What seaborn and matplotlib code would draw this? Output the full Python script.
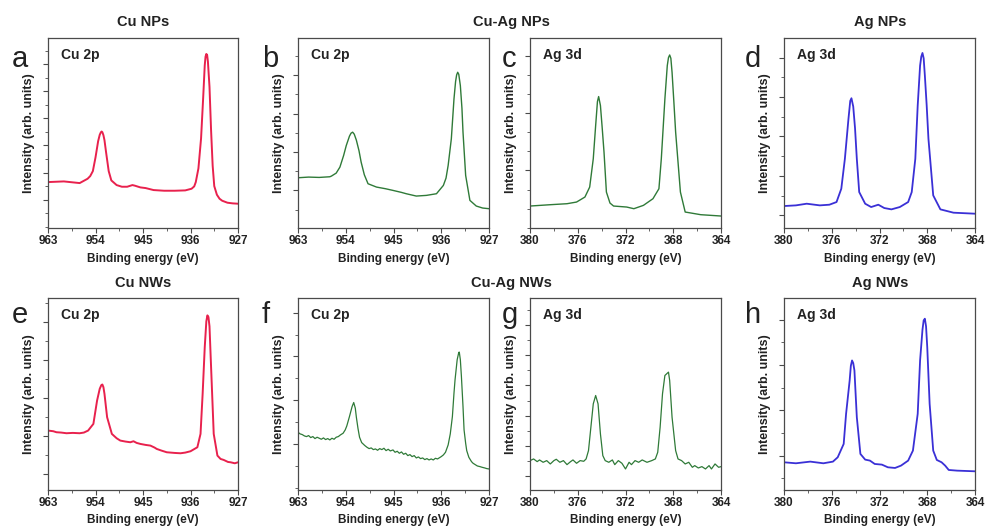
import matplotlib
matplotlib.use("Agg")
import matplotlib.pyplot as plt
from matplotlib.ticker import AutoMinorLocator, FixedLocator
import numpy as np
import pandas as pd
import seaborn as sns

# ---------------- data (binding energy in eV, intensity in arb. units) ----------------
cu_ticks = [963, 954, 945, 936, 927]
cu_ticklabels = ["963", "954", "945", "936", "927"]
ag_ticks = [380, 376, 372, 368, 364]
ag_ticklabels = ["380", "376", "372", "368", "364"]

# a: Cu NPs, Cu 2p
a_x = [963, 960, 957, 955.5, 955.0, 954.5, 954, 953.5, 953.2, 953.0, 952.85, 952.7, 952.5, 952.3,
       952.0, 951.5, 951.0, 950.0, 949.0, 948.0, 947.0, 946.5, 945.5, 944.5, 943.0, 941.0, 939.0,
       937.0, 935.8, 935.3, 935.0, 934.5, 934.0, 933.6, 933.3, 933.15, 933.0, 932.85, 932.7, 932.4,
       932.1, 931.8, 931.5, 931.0, 930.5, 930.0, 929.0, 928.0, 927.0]
a_y = [138, 140, 135, 148, 156, 171, 212, 261, 280, 287, 290, 288, 279, 264,
       228, 171, 143, 129, 124, 124, 129, 127, 122, 120, 114, 112, 112,
       113, 118, 125, 138, 179, 269, 391, 489, 515, 523, 520, 500, 424,
       293, 187, 126, 100, 88, 82, 76, 74, 73]

# b: Cu-Ag NPs, Cu 2p
b_x = [963, 961, 959, 957, 956.7, 955.8, 955.1, 954.4, 953.9, 953.3, 953.0, 952.7, 952.4, 952.0,
       951.5, 951.1, 950.5, 949.8, 948.2, 946.5, 945.1, 943.5, 942.6, 940.7, 938.8, 936.9, 935.6,
       935.1, 934.7, 934.1, 933.6, 933.3, 933.1, 932.9, 932.7, 932.4, 932.1, 931.9, 931.4, 930.6,
       929.4, 928.2, 927]
b_y = [151, 153, 152, 154, 156, 165, 183, 218, 248, 276, 285, 288, 282, 264,
       232, 198, 160, 133, 123, 118, 113, 107, 103, 96, 98, 103, 128,
       150, 188, 268, 388, 440, 460, 468, 462, 428, 360, 288, 158, 83,
       66, 60, 58]

# c: Cu-Ag NPs, Ag 3d
c_x = [380, 378.3, 376.9, 376.1, 375.4, 375.0, 374.7, 374.5, 374.35, 374.25, 374.1, 373.95, 373.8,
       373.6, 373.3, 373.0, 371.9, 371.3, 370.5, 369.7, 369.2, 369.0, 368.7, 368.5, 368.4, 368.3,
       368.2, 368.1, 367.95, 367.8, 367.4, 367.0, 365.7, 364]
c_y = [66, 70, 73, 78, 93, 123, 208, 308, 380, 395, 368, 300, 228,
       108, 75, 66, 63, 58, 68, 88, 118, 208, 388, 488, 512, 520,
       510, 468, 380, 288, 108, 48, 40, 36]

# d: Ag NPs, Ag 3d
d_x = [380, 379.0, 378.1, 377.0, 376.2, 375.6, 375.2, 374.9, 374.6, 374.45, 374.35, 374.2, 374.05,
       373.9, 373.7, 373.2, 372.7, 372.1, 371.6, 371.0, 370.3, 369.6, 369.3, 369.0, 368.8, 368.6,
       368.5, 368.4, 368.3, 368.2, 368.05, 367.9, 367.5, 366.9, 365.8, 364]
d_y = [66, 68, 73, 68, 70, 78, 118, 208, 328, 382, 390, 365, 300,
       208, 108, 73, 63, 70, 60, 56, 63, 78, 108, 208, 368, 488,
       515, 526, 510, 458, 370, 268, 98, 56, 46, 43]

# e: Cu NWs, Cu 2p
e_x = [963, 962, 961.4, 960.5, 959.5, 958.3, 957.0, 956.2, 955.4, 954.4, 953.7, 953.2, 952.9,
       952.7, 952.5, 952.3, 951.8, 950.9, 950.0, 949.3, 948.3, 947.4, 946.8, 946.2, 945.5, 944.5,
       943.6, 942.8, 942.4, 941.5, 940.5, 939.0, 937.9, 937.0, 936.0, 934.7, 934.1, 933.7, 933.3,
       933.0, 932.8, 932.6, 932.4, 932.1, 931.6, 930.9, 930.3, 929.7, 928.9, 928.4, 927.6, 927.0]
e_y = [178, 176, 173, 172, 170, 171, 170, 172, 178, 198, 268, 303, 314,
       316, 308, 288, 218, 168, 155, 148, 145, 143, 146, 141, 138, 135,
       133, 127, 123, 118, 113, 111, 110, 112, 116, 128, 168, 288, 428,
       505, 523, 518, 490, 368, 168, 103, 93, 90, 84, 83, 80, 83]

# f: Cu-Ag NWs, Cu 2p
f_x = [963, 962.6, 962.2, 961.8, 961.4, 961.0, 960.6, 960.2, 959.8, 959.4, 959.0, 958.6, 958.2,
       957.8, 957.4, 957.0, 956.6, 956.2, 955.8, 955.4, 955.0, 954.5, 954.1, 953.8, 953.3, 952.8,
       952.5, 952.2, 952.0, 951.7, 951.4, 951.0, 950.4, 950.0, 949.6, 949.2, 948.8, 948.4, 948.0,
       947.6, 947.2, 946.8, 946.4, 946.0, 945.6, 945.1, 944.7, 944.3, 943.9, 943.5, 943.1, 942.7,
       942.3, 941.9, 941.5, 941.1, 940.7, 940.3, 939.9, 939.5, 939.1, 938.7, 938.3, 937.9, 937.5,
       937.1, 936.7, 936.3, 936.0, 935.6, 935.2, 934.7, 934.3, 933.9, 933.6, 933.4, 933.0, 932.7,
       932.6, 932.4, 932.2, 931.9, 931.7, 931.4, 931.2, 930.8, 930.3, 930.0, 929.6, 929.2, 928.7,
       928.3, 927.8, 927.4, 927.0]
f_y = [173, 168, 166, 162, 160, 163, 157, 160, 154, 158, 155, 152, 156,
       151, 154, 150, 155, 152, 158, 160, 165, 170, 180, 192, 220, 250,
       262, 245, 218, 185, 158, 142, 133, 128, 124, 126, 121, 123, 119,
       124, 121, 125, 118, 122, 117, 120, 113, 116, 110, 114, 107, 110,
       103, 106, 100, 103, 96, 99, 94, 96, 91, 94, 90, 93, 90,
       95, 93, 97, 100, 105, 113, 135, 168, 220, 290, 330, 390, 412,
       413, 390, 340, 250, 180, 140, 118, 98, 85, 80, 76, 72, 70,
       68, 66, 64, 63]

# g: Cu-Ag NWs, Ag 3d
g_x = [380, 379.7, 379.4, 379.2, 378.9, 378.6, 378.3, 378.0, 377.8, 377.5, 377.2, 376.9, 376.6,
       376.4, 376.1, 375.8, 375.5, 375.3, 375.1, 374.9, 374.7, 374.5, 374.3, 374.1, 373.9, 373.7,
       373.4, 373.1, 372.9, 372.6, 372.3, 372.0, 371.7, 371.5, 371.2, 370.9, 370.6, 370.2, 369.8,
       369.5, 369.3, 369.1, 368.9, 368.7, 368.4, 368.3, 368.1, 367.8, 367.6, 367.3, 367.0, 366.7,
       366.4, 366.2, 365.9, 365.6, 365.3, 365.0, 364.8, 364.5, 364.2, 364.0]
g_y = [88, 93, 85, 90, 83, 88, 78, 88, 92, 83, 88, 76, 85,
       90, 80, 88, 86, 93, 118, 188, 258, 283, 258, 168, 103, 88,
       83, 90, 76, 88, 80, 63, 83, 76, 88, 83, 90, 83, 88,
       93, 113, 188, 288, 343, 353, 328, 218, 118, 93, 88, 78, 83,
       68, 73, 66, 70, 63, 73, 63, 78, 68, 70]

# h: Ag NWs, Ag 3d
h_x = [380, 379.0, 377.8, 376.7, 375.9, 375.5, 375.0, 374.8, 374.5, 374.4, 374.3, 374.2, 374.1,
       373.9, 373.6, 373.2, 372.8, 372.4, 371.8, 371.3, 370.7, 370.2, 369.6, 369.2, 368.8, 368.6,
       368.4, 368.3, 368.2, 368.1, 368.0, 367.8, 367.5, 367.2, 366.8, 366.5, 366.2, 365.5, 364.0]
h_y = [83, 80, 85, 80, 85, 98, 138, 228, 328, 372, 388, 380, 358,
       218, 108, 91, 88, 78, 76, 68, 66, 73, 88, 118, 228, 388,
       480, 508, 513, 490, 428, 258, 118, 90, 83, 73, 60, 58, 56]

panel_letters = ["a", "b", "c", "d", "e", "f", "g", "h"]
panel_labels = ["Cu 2p", "Cu 2p", "Ag 3d", "Ag 3d", "Cu 2p", "Cu 2p", "Ag 3d", "Ag 3d"]
group_titles = ["Cu NPs", "Cu-Ag NPs", "Ag NPs", "Cu NWs", "Cu-Ag NWs", "Ag NWs"]
xlabel = "Binding energy (eV)"
ylabel = "Intensity (arb. units)"

# ---------------- style ----------------
sns.set_style("ticks")
plt.rcParams["font.family"] = ["Liberation Sans", "DejaVu Sans"]

RED = "#e8214d"
GREEN = "#2f7a38"
BLUE = "#3a30d6"
FRAME = "#4a4a4a"

W, H = 986, 528
fig = plt.figure(figsize=(W / 100, H / 100), dpi=100)

cols_px = [(48, 238), (298, 489), (530, 721), (784, 975)]
rows_px = [(38, 228), (298, 490)]

panels = [
    (a_x, a_y, "cu", RED, 1.4, 571, 85, 81.5, 2),
    (b_x, b_y, "cu", GREEN, 1.0, 571, 113, 115.5, 2),
    (c_x, c_y, "ag", GREEN, 1.0, 571, 173, 172.5, 3),
    (d_x, d_y, "ag", BLUE, 1.3, 571, 38, 118.5, 2),
    (e_x, e_y, "cu", RED, 1.4, 575, 48, 114, 2),
    (f_x, f_y, "cu", GREEN, 0.9, 575, 138, 131, 2),
    (g_x, g_y, "ag", GREEN, 0.9, 575, 43, 90, 2),
    (h_x, h_y, "ag", BLUE, 1.3, 575, 103, 135.7, 2),
]

for i, (xs, ys, kind, color, lw, ytop, yfirst, ystep, nminor) in enumerate(panels):
    r, c = divmod(i, 4)
    x0, x1 = cols_px[c]
    y0, y1 = rows_px[r]
    ax = fig.add_axes([x0 / W, 1 - y1 / H, (x1 - x0) / W, (y1 - y0) / H])
    df = pd.DataFrame({"be": xs, "I": ys})
    sns.lineplot(data=df, x="be", y="I", ax=ax, color=color, linewidth=lw,
                 estimator=None, sort=False)
    if kind == "cu":
        ax.set_xlim(963, 927)
        ax.set_xticks(cu_ticks, labels=cu_ticklabels, fontweight="bold", fontsize=8.5)
    else:
        ax.set_xlim(380, 364)
        ax.set_xticks(ag_ticks, labels=ag_ticklabels, fontweight="bold", fontsize=8.5)
    ax.xaxis.set_minor_locator(AutoMinorLocator(2))
    ax.set_ylim(0, ytop)
    ax.yaxis.set_major_locator(FixedLocator(list(np.arange(yfirst, ytop, ystep))))
    ax.yaxis.set_minor_locator(AutoMinorLocator(nminor))
    ax.tick_params(axis="y", labelleft=False)
    ax.tick_params(which="major", direction="out", length=3.5, width=0.8,
                   color=FRAME, pad=1.5, labelcolor="#222222")
    ax.tick_params(which="minor", direction="out", length=2, width=0.6, color=FRAME)
    for sp in ax.spines.values():
        sp.set_color(FRAME)
        sp.set_linewidth(0.9)
    ax.set_xlabel(xlabel, fontsize=8.5, fontweight="bold", color="#222222", labelpad=4)
    ax.set_ylabel(ylabel, fontsize=9, fontweight="bold", color="#222222", labelpad=4)
    ax.text(0.07, 0.91, panel_labels[i], transform=ax.transAxes, fontsize=10,
            fontweight="bold", color="#222222", ha="left", va="center")

# panel letters
letter_x = [12, 262, 502, 745]
letter_base = [67, 323]
for i, lt in enumerate(panel_letters):
    r, c = divmod(i, 4)
    fig.text(letter_x[c] / W, 1 - letter_base[r] / H, lt, fontsize=21,
             color="#222222", ha="left", va="baseline")

# group titles
title_x = [143, 511, 880]
title_y = [22, 283]
for j, t in enumerate(group_titles):
    r, c = divmod(j, 3)
    fig.text(title_x[c] / W, 1 - title_y[r] / H, t, fontsize=10.5, fontweight="bold",
             color="#222222", ha="center", va="center")

fig.savefig("out.png", dpi=100, facecolor="white")
